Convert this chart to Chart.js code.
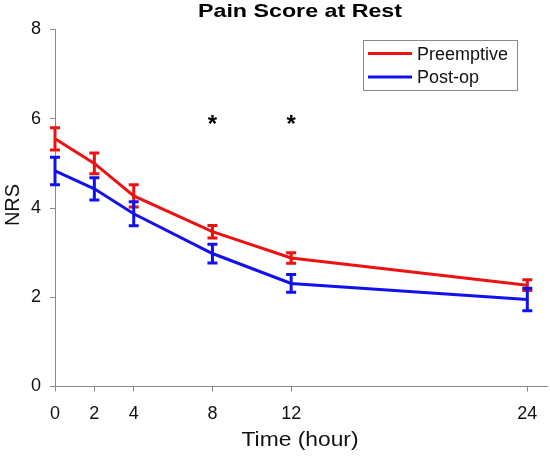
<!DOCTYPE html>
<html><head><meta charset="utf-8">
<script src="https://cdn.jsdelivr.net/npm/chart.js@4/dist/chart.umd.min.js"></script>
<style>html,body{margin:0;padding:0;background:#fff}#wrap{width:550px;height:457px}</style>
</head><body><div id="wrap"><canvas id="c" width="550" height="457"></canvas></div>
<script>
const hours = [0, 2, 4, 8, 12, 24];
const xTicks = [0, 2, 4, 8, 12, 24];
const yTicks = [0, 2, 4, 6, 8];
const preMean = [5.55, 5.0, 4.27, 3.47, 2.88, 2.27];
const preErr  = [0.25, 0.23, 0.25, 0.14, 0.12, 0.12];
const postMean = [4.83, 4.43, 3.87, 2.98, 2.31, 1.95];
const postErr  = [0.31, 0.25, 0.27, 0.21, 0.2, 0.25];
const sigHours = [8, 12];
const sigY = 6.02;
const seriesNames = ['Preemptive', 'Post-op'];
const colors = ['#ee1111', '#1111ee'];
const FONT = '"Liberation Sans", Arial, sans-serif';

function fitText(ctx, txt, cx, cy, w) {
  const m = ctx.measureText(txt).width;
  ctx.save(); ctx.translate(cx, cy); ctx.scale(w / m, 1);
  ctx.fillText(txt, 0, 0); ctx.restore();
}

const errPlugin = {
  id: 'extras',
  afterDatasetsDraw(chart) {
    const ctx = chart.ctx, xs = chart.scales.x, ys = chart.scales.y;
    const sets = [[preMean, preErr, colors[0]], [postMean, postErr, colors[1]]];
    ctx.save();
    sets.forEach(([m, e, c]) => {
      ctx.strokeStyle = c; ctx.lineWidth = 3;
      hours.forEach((h, i) => {
        const px = xs.getPixelForValue(h);
        const y1 = ys.getPixelForValue(m[i] + e[i]);
        const y2 = ys.getPixelForValue(m[i] - e[i]);
        ctx.beginPath();
        ctx.moveTo(px, y1); ctx.lineTo(px, y2);
        ctx.moveTo(px - 5, y1); ctx.lineTo(px + 5, y1);
        ctx.moveTo(px - 5, y2); ctx.lineTo(px + 5, y2);
        ctx.stroke();
      });
    });
    // asterisks
    ctx.fillStyle = '#000'; ctx.font = 'bold 24px ' + FONT;
    ctx.textAlign = 'center'; ctx.textBaseline = 'alphabetic';
    sigHours.forEach(h => ctx.fillText('*', xs.getPixelForValue(h), ys.getPixelForValue(sigY) + 14));
    // title
    ctx.textBaseline = 'middle';
    ctx.font = 'bold 19px ' + FONT;
    fitText(ctx, 'Pain Score at Rest', 300, 12, 204);
    // axis titles
    ctx.font = '20px ' + FONT; ctx.fillStyle = '#111';
    fitText(ctx, 'Time (hour)', 300, 440, 117);
    ctx.save(); ctx.translate(13, 205); ctx.rotate(-Math.PI / 2);
    ctx.fillText('NRS', 0, 0); ctx.restore();
    // legend
    ctx.strokeStyle = '#888'; ctx.lineWidth = 1;
    ctx.strokeRect(363.5, 40.5, 154, 50);
    ctx.textAlign = 'left'; ctx.font = '18px ' + FONT; ctx.fillStyle = '#111';
    seriesNames.forEach((n, i) => {
      const y = 53.5 + i * 23.5;
      ctx.strokeStyle = colors[i]; ctx.lineWidth = 3;
      ctx.beginPath(); ctx.moveTo(368, y); ctx.lineTo(412, y); ctx.stroke();
      ctx.fillText(n, 417, y + 1.5);
    });
    ctx.restore();
  }
};

new Chart(document.getElementById('c'), {
  type: 'line',
  data: {
    datasets: [
      { label: seriesNames[0], data: hours.map((h, i) => ({x: h, y: preMean[i]})), borderColor: colors[0], borderWidth: 3, pointRadius: 0, tension: 0, fill: false },
      { label: seriesNames[1], data: hours.map((h, i) => ({x: h, y: postMean[i]})), borderColor: colors[1], borderWidth: 3, pointRadius: 0, tension: 0, fill: false }
    ]
  },
  options: {
    responsive: false, animation: false,
    layout: { padding: { top: 29.5, right: 3, left: 0, bottom: 0 } },
    plugins: { legend: { display: false }, tooltip: { enabled: false }, title: { display: false } },
    scales: {
      x: {
        type: 'linear', min: 0, max: 25,
        afterBuildTicks: s => { s.ticks = xTicks.map(v => ({value: v})); },
        afterFit: s => { s.height = 70.5; },
        grid: { display: true, drawOnChartArea: false, drawTicks: true, tickLength: 5, color: '#888' },
        border: { color: '#888', width: 1 },
        ticks: { color: '#111', font: { family: FONT, size: 18 }, padding: 12, maxRotation: 0 }
      },
      y: {
        min: 0, max: 8,
        afterBuildTicks: s => { s.ticks = yTicks.map(v => ({value: v})); },
        afterFit: s => { s.width = 55; },
        grid: { display: true, drawOnChartArea: false, drawTicks: true, tickLength: 5, color: '#888' },
        border: { color: '#888', width: 1 },
        ticks: { color: '#111', font: { family: FONT, size: 18 }, padding: 9 }
      }
    }
  },
  plugins: [errPlugin]
});
</script></body></html>
